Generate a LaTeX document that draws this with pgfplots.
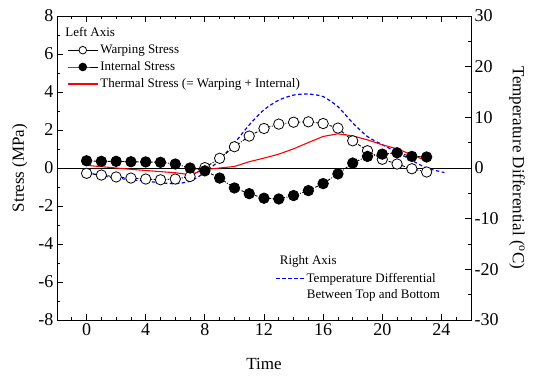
\documentclass[border=0pt]{standalone}
\usepackage{fontspec}
\setmainfont{Liberation Serif}
\usepackage{pgfplots}
\pgfplotsset{compat=1.18}
\begin{document}
\begin{tikzpicture}
\pgfplotsset{
  every axis/.append style={
    scale only axis, width=414pt, height=304pt, xmin=-2, xmax=26,
    tick label style={font=\fontsize{18}{20}\selectfont},
    label style={font=\fontsize{17}{20}\selectfont},
    major tick length=6pt, minor tick length=3.5pt,
    tick style={black, line width=0.8pt},
    axis line style={line width=0.9pt},
  },
}
\begin{axis}[name=rightax, axis x line=none, axis y line*=right,
  ymin=-30, ymax=30, ytick={-30,-20,...,30},
  yticklabels={-30,-20,-10,0,10,20,30},
  minor ytick={-25,-15,...,25},
  ylabel={Temperature Differential (\textsuperscript{o}C)},
  ylabel style={rotate=180, at={(axis description cs:1.111,0.5)}, anchor=center},
  legend style={draw=none, fill=none, at={(axis description cs:0.52,0.168)}, anchor=north west,
    font=\fontsize{13}{15}\selectfont, legend cell align=left},
]
\addplot[blue, line width=1.2pt, dash pattern=on 3.5pt off 2.5pt, smooth, tension=0.4, forget plot] coordinates {
(0,-0.9) (1,-1.5) (2,-2.0) (3,-2.3) (4,-2.6) (5,-2.9) (6,-3.1) (7,-2.6) (8,-0.9)
(9,1.6) (10,4.9) (11,8.5) (12,11.5) (13,13.4) (14,14.4) (15,14.6) (16,14.1)
(17,12.1) (18,8.9) (19,6.2) (20,4.6) (21,3.1) (22,1.5) (23,0.0) (24.2,-0.9)};
\addlegendimage{legend image code/.code={\draw[blue, line width=1.2pt, dash pattern=on 3.5pt off 2.5pt] (0pt,0pt) -- (28pt,0pt);}}
\addlegendentry{Temperature Differential}
\node[anchor=west, font=\fontsize{13}{15}\selectfont] at (axis description cs:0.53,0.194) {Right Axis};
\node[anchor=west, font=\fontsize{13}{15}\selectfont] at (axis description cs:0.595,0.082) {Between Top and Bottom};
\end{axis}
\begin{axis}[name=leftax, ymin=-8, ymax=8, ytick={-8,-6,...,8},
  yticklabels={-8,-6,-4,-2,0,2,4,6,8},
  minor ytick={-7,-5,...,7},
  xtick={0,4,...,24}, xticklabels={0,4,8,12,16,20,24},
  minor xtick={-1,0,...,25},
  ytick pos=left, xtick pos=both,
  xlabel={Time}, ylabel={Stress (MPa)},
  xlabel style={at={(axis description cs:0.5,-0.143)}, anchor=center},
  ylabel style={at={(axis description cs:-0.09,0.5)}, anchor=center},
  legend style={draw=none, fill=none, at={(axis description cs:0.017,0.918)}, anchor=north west,
    font=\fontsize{13}{15}\selectfont, row sep=2.5pt, legend cell align=left},
  legend image code/.code={\draw[mark repeat=2, mark phase=2, #1, solid, mark size=3.8pt] plot coordinates {(0pt,0pt) (15pt,0pt) (30pt,0pt)};},
]
\addplot[black, line width=0.9pt, forget plot] coordinates {(-2,0) (26,0)};
\addplot[black, line width=0.9pt, dash pattern=on 3pt off 1.5pt on 1pt off 1.5pt, mark=*, mark size=5.2pt,
  mark options={solid, fill=white, draw=black, line width=0.8pt}] coordinates {
(0,-0.28) (1,-0.37) (2,-0.47) (3,-0.53) (4,-0.58) (5,-0.62) (6,-0.58) (7,-0.45)
(8,0.02) (9,0.51) (10,1.12) (11,1.68) (12,2.08) (13,2.31) (14,2.41) (15,2.43)
(16,2.34) (17,2.10) (18,1.43) (19,0.91) (20,0.46) (21,0.21) (22,-0.04) (23,-0.21)};
\addlegendentry{Warping Stress}
\addplot[black, line width=0.9pt, dash pattern=on 3pt off 1.5pt on 1pt off 1.5pt, mark=*, mark size=5.2pt,
  mark options={solid, fill=black, draw=black}] coordinates {
(0,0.38) (1,0.35) (2,0.35) (3,0.33) (4,0.32) (5,0.30) (6,0.21) (7,0.00)
(8,-0.15) (9,-0.53) (10,-1.05) (11,-1.35) (12,-1.59) (13,-1.63) (14,-1.45) (15,-1.19)
(16,-0.82) (17,-0.31) (18,0.26) (19,0.61) (20,0.73) (21,0.80) (22,0.61) (23,0.58)};
\addlegendentry{Internal Stress}
\addplot[red, line width=1.1pt] coordinates {
(0,0.14) (1,0.07) (2,0.00) (3,-0.07) (4,-0.13) (5,-0.19) (6,-0.25) (7,-0.35)
(8,-0.09) (9,0.00) (10,0.08) (11,0.33) (12,0.52) (13,0.73) (14,1.01) (15,1.34)
(16,1.66) (17,1.80) (18,1.69) (19,1.48) (20,1.22) (21,1.01) (22,0.70) (23,0.37)};
\addlegendentry{Thermal Stress (= Warping + Internal)}
\node[anchor=west, font=\fontsize{13}{15}\selectfont] at (axis description cs:0.012,0.947) {Left Axis};
\end{axis}
\pgfresetboundingbox
\path ([xshift=-57pt,yshift=-59pt]leftax.south west) rectangle ([xshift=62pt,yshift=16pt]leftax.north east);
\end{tikzpicture}
\end{document}
